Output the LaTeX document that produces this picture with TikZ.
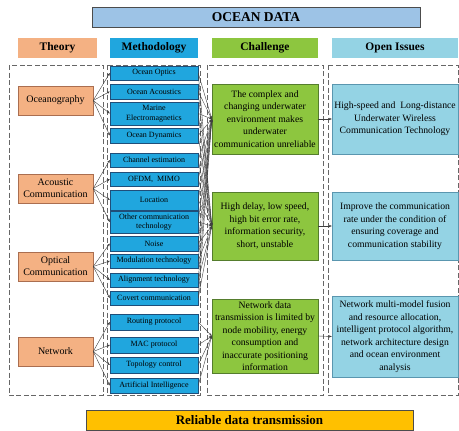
\documentclass[tikz,border=0pt]{standalone}
\usepackage{fontspec}
\setmainfont{Liberation Serif}
\usepackage{tikz}
\usetikzlibrary{arrows.meta}

\definecolor{titlefill}{RGB}{157,195,230}
\definecolor{thfill}{RGB}{244,177,131}
\definecolor{thline}{RGB}{170,110,80}
\definecolor{mefill}{RGB}{32,166,222}
\definecolor{meline}{RGB}{31,78,121}
\definecolor{chfill}{RGB}{141,198,63}
\definecolor{chline}{RGB}{85,125,45}
\definecolor{opfill}{RGB}{148,211,228}
\definecolor{opline}{RGB}{90,150,175}
\definecolor{relfill}{RGB}{255,192,0}

\tikzset{
  head/.style={minimum height=20pt, inner sep=0pt, font=\bfseries\fontsize{11.5}{12}\selectfont},
  theo/.style={draw=thline, fill=thfill, minimum width=75pt, minimum height=29pt, inner sep=1pt, align=center, font=\fontsize{10}{12}\selectfont},
  meth/.style={draw=meline, fill=mefill, minimum width=88pt, inner sep=0pt, align=center, font=\fontsize{8}{9.5}\selectfont},
  chal/.style={draw=chline, fill=chfill, minimum width=106pt, inner sep=1pt, align=center, font=\fontsize{9.7}{12.5}\selectfont},
  open/.style={draw=opline, fill=opfill, minimum width=126pt, inner sep=1pt, align=center, font=\fontsize{9.7}{12.5}\selectfont},
  group/.style={draw=gray!80!black, thick, dash pattern=on 5pt off 2.5pt},
  conn/.style={draw=black!75, line width=0.4pt, -{Stealth[length=3pt,width=2.4pt]}}
}

\begin{document}
\begin{tikzpicture}[x=1pt,y=-1pt]
    \useasboundingbox (0,0) rectangle (459,431);
    % groups
    \draw [group] (9,65) rectangle (103,395);
    \draw [group] (107,65) rectangle (200,395);
    \draw [group] (207,65) rectangle (323,395);
    \draw [group] (328,65) rectangle (458,395);
    % title and headers
    \node [draw=black!70, fill=titlefill, minimum width=328pt, minimum height=20pt, inner sep=0pt, font=\bfseries\fontsize{13.5}{14}\selectfont] (title) at (256,17) {OCEAN DATA};
    \node [head, fill=thfill, minimum width=79pt] (hth) at (57.5,48) {Theory};
    \node [head, fill=mefill, minimum width=88pt] (hme) at (154,48) {Methodology};
    \node [head, fill=chfill, minimum width=106pt] (hch) at (265,48) {Challenge};
    \node [head, fill=opfill, minimum width=126pt] (hop) at (395,48) {Open Issues};
    % theory
    \node [theo] (t1) at (55.5,100.5) {Oceanography};
    \node [theo] (t2) at (55.5,188.5) {Acoustic\\Communication};
    \node [theo] (t3) at (55.5,266.5) {Optical\\Communication};
    \node [theo] (t4) at (55.5,351.5) {Network};
    % methodology
    \node [meth, minimum height=14pt] (m1) at (154,73) {Ocean Optics};
    \node [meth, minimum height=15pt] (m2) at (154,91.5) {Ocean Acoustics};
    \node [meth, minimum height=23pt] (m3) at (154,113.5) {Marine\\Electromagnetics};
    \node [meth, minimum height=15pt] (m4) at (154,135.5) {Ocean Dynamics};
    \node [meth, minimum height=14pt] (m5) at (154,160) {Channel estimation};
    \node [meth, minimum height=14pt] (m6) at (154,179) {OFDM,\enspace MIMO};
    \node [meth, minimum height=20pt] (m7) at (154,200) {Location};
    \node [meth, minimum height=22pt] (m8) at (154,222) {Other communication\\technology};
    \node [meth, minimum height=15pt] (m9) at (154,243.5) {Noise};
    \node [meth, minimum height=14pt] (m10) at (154,261) {Modulation technology};
    \node [meth, minimum height=14pt] (m11) at (154,280) {Alignment technology};
    \node [meth, minimum height=14pt] (m12) at (154,298) {Covert communication};
    \node [meth, minimum height=16pt] (m13) at (154,322) {Routing protocol};
    \node [meth, minimum height=16pt] (m14) at (154,345) {MAC protocol};
    \node [meth, minimum height=16pt] (m15) at (154,365) {Topology control};
    \node [meth, minimum height=15pt] (m16) at (154,385.5) {Artificial Intelligence};
    % challenge
    \node [chal, minimum height=70pt] (c1) at (265,119) {The complex and\\changing underwater\\environment makes\\underwater\\communication unreliable};
    \node [chal, minimum height=68pt] (c2) at (265,226) {High delay, low speed,\\high bit error rate,\\information security,\\short, unstable};
    \node [chal, minimum height=74pt] (c3) at (265,336) {Network data\\transmission is limited by\\node mobility, energy\\consumption and\\inaccurate positioning\\information};
    % open issues
    \node [open, minimum height=70pt] (o1) at (395,119) {High-speed and\ \ Long-distance\\Underwater Wireless\\Communication Technology};
    \node [open, minimum height=68pt] (o2) at (395,226) {Improve the communication\\rate under the condition of\\ensuring coverage and\\communication stability};
    \node [open, minimum height=81pt] (o3) at (395,336.5) {Network multi-model fusion\\and resource allocation,\\intelligent protocol algorithm,\\network architecture design\\and ocean environment\\analysis};
    % bottom bar
    \node [draw=black!70, fill=relfill, minimum width=327pt, minimum height=20pt, inner sep=0pt, font=\bfseries\fontsize{13}{14}\selectfont] (rel) at (249.5,420) {Reliable data transmission};
    % connectors
    \foreach \m in {1,...,4} \draw [conn] (t1.east) -- (m\m.west);
    \foreach \m in {5,...,8} \draw [conn] (t2.east) -- (m\m.west);
    \foreach \m in {9,...,12} \draw [conn] (t3.east) -- (m\m.west);
    \foreach \m in {13,...,16} \draw [conn] (t4.east) -- (m\m.west);
    \foreach \m in {1,...,12} {
        \draw [conn] (m\m.east) -- (c1.west);
        \draw [conn] (m\m.east) -- (c2.west);
    }
    \foreach \m in {13,...,16} \draw [conn] (m\m.east) -- (c3.west);
    \draw [conn] (c1.east) -- (o1.west);
    \draw [conn] (c2.east) -- (o2.west);
    \draw [conn] (c3.east) -- (o3.west);
\end{tikzpicture}
\end{document}
